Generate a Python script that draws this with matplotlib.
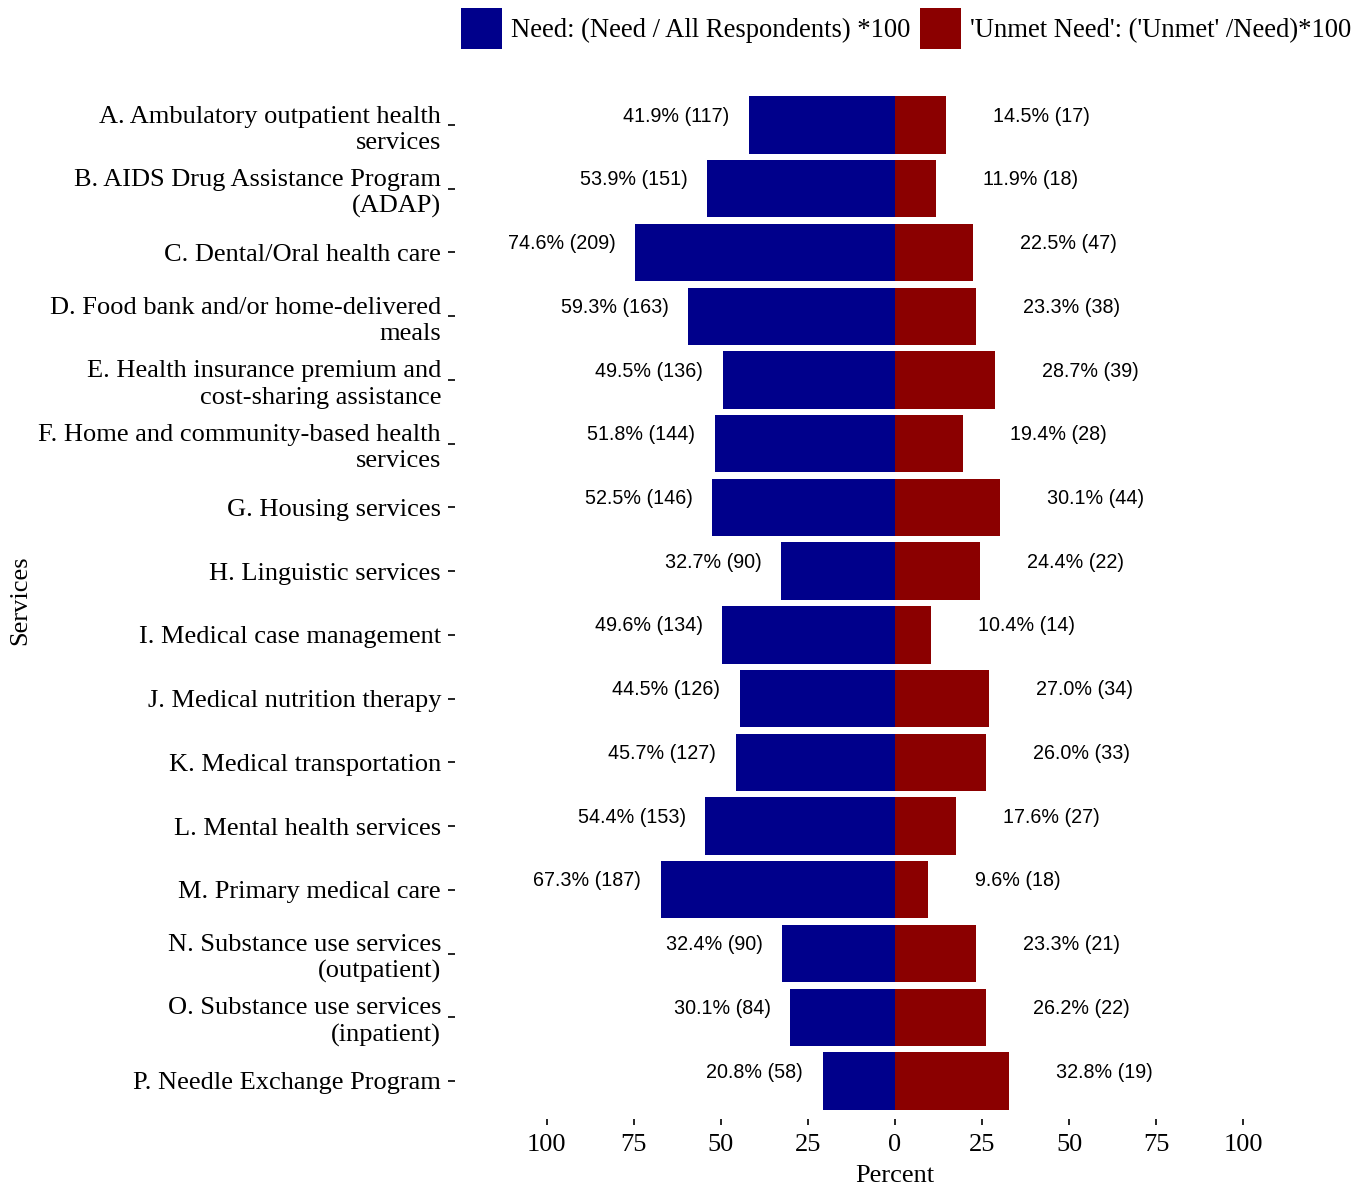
import matplotlib
matplotlib.use("Agg")
import matplotlib.pyplot as plt
from matplotlib.patches import Patch
import numpy as np

services = [
    "A. Ambulatory outpatient health\nservices",
    "B. AIDS Drug Assistance Program\n(ADAP)",
    "C. Dental/Oral health care",
    "D. Food bank and/or home-delivered\nmeals",
    "E. Health insurance premium and\ncost-sharing assistance",
    "F. Home and community-based health\nservices",
    "G. Housing services",
    "H. Linguistic services",
    "I. Medical case management",
    "J. Medical nutrition therapy",
    "K. Medical transportation",
    "L. Mental health services",
    "M. Primary medical care",
    "N. Substance use services\n(outpatient)",
    "O. Substance use services\n(inpatient)",
    "P. Needle Exchange Program",
]
need_pct = [41.9, 53.9, 74.6, 59.3, 49.5, 51.8, 52.5, 32.7, 49.6, 44.5, 45.7, 54.4, 67.3, 32.4, 30.1, 20.8]
need_n = [117, 151, 209, 163, 136, 144, 146, 90, 134, 126, 127, 153, 187, 90, 84, 58]
unmet_pct = [14.5, 11.9, 22.5, 23.3, 28.7, 19.4, 30.1, 24.4, 10.4, 27.0, 26.0, 17.6, 9.6, 23.3, 26.2, 32.8]
unmet_n = [17, 18, 47, 38, 39, 28, 44, 22, 14, 34, 33, 27, 18, 21, 22, 19]
xticks = [-100, -75, -50, -25, 0, 25, 50, 75, 100]
xticklabels = ["100", "75", "50", "25", "0", "25", "50", "75", "100"]

BLUE = "#00008B"
RED = "#8B0000"
SERIF = "Liberation Serif"
SANS = "Liberation Sans"

W, H = 1363, 1186
fig = plt.figure(figsize=(W / 100, H / 100), dpi=100)
left_px, right_px = 455, 1335
top_px, bot_px = 86.8, 1119.2
ax = fig.add_axes([left_px / W, 1 - bot_px / H, (right_px - left_px) / W, (bot_px - top_px) / H])

y = np.arange(len(services))
ax.barh(y, -np.array(need_pct), height=0.9, color=BLUE, linewidth=0)
ax.barh(y, unmet_pct, height=0.9, color=RED, linewidth=0)

for i in range(len(services)):
    ax.text(-(need_pct[i] + 5.6), i - 0.14, f"{need_pct[i]:.1f}% ({need_n[i]})",
            ha="right", va="center", fontsize=14.2, family=SANS, color="black")
    ax.text(unmet_pct[i] + 13.5, i - 0.14, f"{unmet_pct[i]:.1f}% ({unmet_n[i]})",
            ha="left", va="center", fontsize=14.2, family=SANS, color="black")

ax.set_xlim(-126.3, 126.3)
ax.set_ylim(len(services) - 0.4, -0.6)
ax.set_yticks(y)
ax.set_yticklabels(services, fontsize=19, family=SERIF, linespacing=1.25)
ax.set_xticks(xticks)
ax.set_xticklabels(xticklabels, fontsize=19, family=SERIF)
ax.tick_params(axis="y", length=5, width=1.2, pad=5)
ax.tick_params(axis="x", length=4, width=1.2, pad=7)
for s in ax.spines.values():
    s.set_visible(False)

ax.set_xlabel("Percent", fontsize=19, family=SERIF, labelpad=6)
fig.text(20 / W, 1 - 600 / H, "Services", rotation=90, ha="center", va="center",
         fontsize=19, family=SERIF)

handles = [Patch(facecolor=BLUE, edgecolor="none"), Patch(facecolor=RED, edgecolor="none")]
labels = ["Need: (Need / All Respondents) *100", "'Unmet Need': ('Unmet' /Need)*100"]
fig.legend(handles, labels, loc="upper left", bbox_to_anchor=(461 / W, 1 - 8 / H),
           ncol=2, frameon=False, prop={"family": SERIF, "size": 19.2},
           borderpad=0, borderaxespad=0, handlelength=1.54, handleheight=2.0,
           handletextpad=0.34, columnspacing=0.34)

fig.savefig("out.png", dpi=100)
